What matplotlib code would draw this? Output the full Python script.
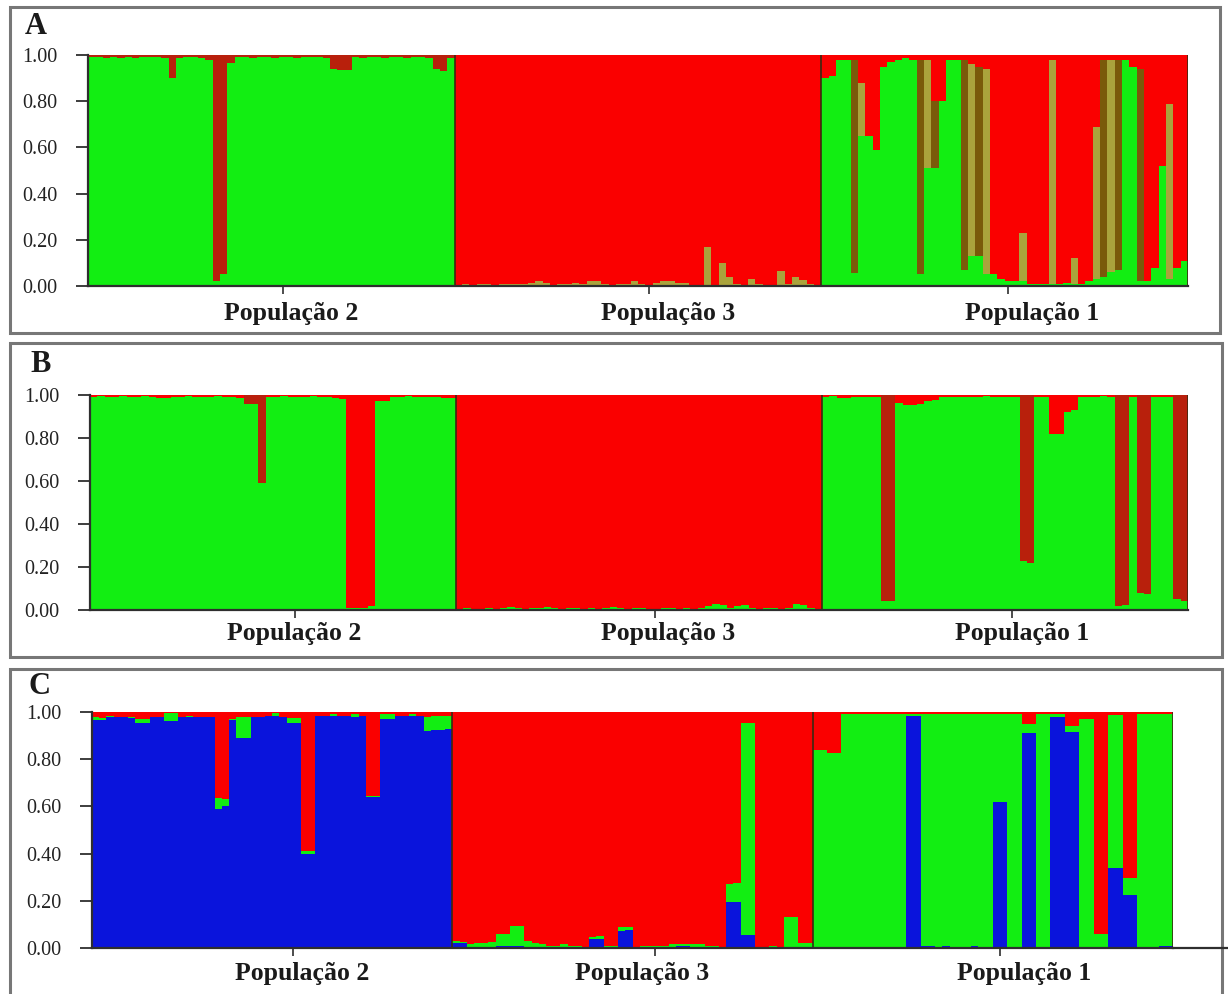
import numpy as np
import matplotlib.pyplot as plt
from matplotlib.patches import Rectangle
from matplotlib.lines import Line2D

plt.rcParams['font.family'] = ['Liberation Serif', 'DejaVu Serif']

W, H = 1228, 994

pop_names = ['População 2', 'População 3', 'População 1']
yticks = [0.0, 0.2, 0.4, 0.6, 0.8, 1.0]

# ---------------- A : K=2 (green / red, blended olive columns) ----------------
a_green_p2 = [0.99, 0.99, 0.985, 0.99, 0.985, 0.99, 0.985, 0.99, 0.99, 0.99,
              0.985, 0.90, 0.985, 0.99, 0.99, 0.985, 0.98, 0.02, 0.05, 0.965,
              0.99, 0.99, 0.985, 0.99, 0.99, 0.985, 0.99, 0.99, 0.985, 0.99,
              0.99, 0.99, 0.985, 0.94, 0.935, 0.935, 0.99, 0.985, 0.99, 0.99,
              0.985, 0.99, 0.99, 0.985, 0.99, 0.99, 0.985, 0.94, 0.93, 0.985]
a_green_p3 = [0.0] * 50
a_green_p1 = [0.90, 0.91, 0.98, 0.98, 0.055, 0.65, 0.65, 0.59, 0.95, 0.97,
              0.98, 0.985, 0.98, 0.05, 0.51, 0.51, 0.80, 0.98, 0.98, 0.07,
              0.13, 0.13, 0.05, 0.05, 0.03, 0.02, 0.02, 0.02, 0.01, 0.01,
              0.01, 0.01, 0.01, 0.015, 0.01, 0.01, 0.02, 0.03, 0.04, 0.06,
              0.07, 0.98, 0.95, 0.02, 0.02, 0.08, 0.52, 0.03, 0.08, 0.11]
a_mix_p2 = [0.0] * 50
a_mix_p3 = [0.005, 0.01, 0.005, 0.01, 0.01, 0.005, 0.01, 0.01, 0.01, 0.01,
            0.015, 0.02, 0.015, 0.005, 0.01, 0.01, 0.015, 0.01, 0.02, 0.02,
            0.01, 0.005, 0.01, 0.01, 0.02, 0.01, 0.005, 0.015, 0.02, 0.02,
            0.015, 0.015, 0.005, 0.005, 0.17, 0.005, 0.10, 0.04, 0.01, 0.005,
            0.03, 0.01, 0.005, 0.005, 0.065, 0.01, 0.04, 0.025, 0.01, 0.005]
a_mix_p1 = [0, 0, 0, 0, 0.925, 0.23, 0, 0, 0, 0,
            0, 0, 0, 0.93, 0.47, 0.29, 0, 0, 0, 0.91,
            0.83, 0.82, 0.89, 0, 0, 0, 0, 0.21, 0, 0,
            0, 0.97, 0, 0, 0.11, 0, 0, 0.66, 0.94, 0.92,
            0.91, 0, 0, 0.92, 0, 0, 0, 0.76, 0, 0]
a_dark_mix = [104, 113, 115, 119, 121, 138, 140, 143]

# ---------------- B : K=2 (green / red) ----------------
b_green_p2 = [0.99, 0.995, 0.99, 0.99, 0.995, 0.99, 0.99, 0.995, 0.99, 0.985,
              0.985, 0.99, 0.99, 0.995, 0.99, 0.99, 0.99, 0.995, 0.99, 0.99,
              0.985, 0.96, 0.96, 0.59, 0.99, 0.99, 0.995, 0.99, 0.99, 0.99,
              0.995, 0.99, 0.99, 0.985, 0.98, 0.01, 0.01, 0.01, 0.02, 0.97,
              0.97, 0.99, 0.99, 0.995, 0.99, 0.99, 0.99, 0.99, 0.985, 0.985]
b_green_p3 = [0.005, 0.01, 0.005, 0.005, 0.01, 0.005, 0.01, 0.015, 0.01, 0.005,
              0.01, 0.01, 0.015, 0.01, 0.005, 0.01, 0.01, 0.005, 0.01, 0.005,
              0.01, 0.015, 0.01, 0.005, 0.01, 0.01, 0.005, 0.005, 0.01, 0.01,
              0.005, 0.01, 0.005, 0.01, 0.02, 0.03, 0.025, 0.01, 0.02, 0.025,
              0.01, 0.005, 0.01, 0.01, 0.005, 0.01, 0.03, 0.025, 0.01, 0.005]
b_green_p1 = [0.99, 0.995, 0.985, 0.985, 0.99, 0.99, 0.99, 0.99, 0.04, 0.04,
              0.965, 0.955, 0.955, 0.96, 0.97, 0.975, 0.99, 0.99, 0.99, 0.99,
              0.99, 0.99, 0.995, 0.99, 0.99, 0.99, 0.99, 0.23, 0.22, 0.99,
              0.99, 0.82, 0.82, 0.92, 0.93, 0.99, 0.99, 0.99, 0.995, 0.99,
              0.02, 0.025, 0.99, 0.08, 0.075, 0.99, 0.99, 0.99, 0.05, 0.04]
b_dark_red = [21, 22, 23, 108, 109, 127, 128, 140, 141, 143, 144, 148, 149]

# ---------------- C : K=3 (blue / green / red) ----------------
c_blue_p2 = [0.965, 0.965, 0.98, 0.98, 0.98, 0.975, 0.955, 0.955, 0.98, 0.98,
             0.96, 0.96, 0.98, 0.98, 0.98, 0.98, 0.98, 0.59, 0.60, 0.965,
             0.89, 0.89, 0.98, 0.98, 0.985, 0.985, 0.98, 0.955, 0.955, 0.40,
             0.40, 0.985, 0.985, 0.985, 0.985, 0.985, 0.98, 0.985, 0.64, 0.64,
             0.97, 0.97, 0.985, 0.985, 0.985, 0.985, 0.92, 0.925, 0.925, 0.93]
c_green_p2 = [0.015, 0.01, 0.005, 0.0, 0.0, 0.005, 0.015, 0.015, 0.0, 0.0,
              0.035, 0.035, 0.0, 0.005, 0.0, 0.0, 0.0, 0.045, 0.03, 0.005,
              0.09, 0.09, 0.0, 0.0, 0.0, 0.01, 0.0, 0.02, 0.02, 0.01,
              0.01, 0.0, 0.0, 0.005, 0.0, 0.0, 0.01, 0.0, 0.005, 0.005,
              0.02, 0.02, 0.0, 0.0, 0.005, 0.0, 0.06, 0.06, 0.06, 0.055]
c_blue_p3 = [0.02, 0.02, 0.0, 0.0, 0.0, 0.0, 0.01, 0.01, 0.01, 0.01,
             0.0, 0.0, 0.0, 0.0, 0.0, 0.0, 0.0, 0.0, 0.0, 0.04,
             0.04, 0.0, 0.0, 0.07, 0.075, 0.0, 0.0, 0.0, 0.0, 0.0,
             0.005, 0.01, 0.01, 0.0, 0.0, 0.0, 0.0, 0.0, 0.195, 0.195,
             0.054, 0.054, 0.0, 0.0, 0.0, 0.0, 0.005, 0.005, 0.0, 0.0]
c_green_p3 = [0.01, 0.005, 0.015, 0.02, 0.02, 0.025, 0.05, 0.05, 0.085, 0.085,
              0.03, 0.02, 0.015, 0.01, 0.01, 0.015, 0.01, 0.01, 0.005, 0.005,
              0.01, 0.01, 0.01, 0.02, 0.015, 0.005, 0.01, 0.01, 0.01, 0.01,
              0.01, 0.005, 0.005, 0.015, 0.015, 0.01, 0.01, 0.005, 0.078, 0.08,
              0.90, 0.90, 0.005, 0.005, 0.01, 0.005, 0.125, 0.125, 0.02, 0.02]
c_blue_p1 = [0.005, 0.005, 0.005, 0.005, 0.005, 0.005, 0.0, 0.005, 0.005, 0.0,
             0.005, 0.005, 0.005, 0.985, 0.985, 0.01, 0.01, 0.005, 0.01, 0.005,
             0.0, 0.005, 0.01, 0.005, 0.005, 0.62, 0.62, 0.005, 0.005, 0.91,
             0.91, 0.005, 0.005, 0.98, 0.98, 0.915, 0.915, 0.005, 0.005, 0.005,
             0.005, 0.338, 0.338, 0.225, 0.225, 0.005, 0.005, 0.005, 0.01, 0.01]
c_green_p1 = [0.835, 0.835, 0.82, 0.82, 0.985, 0.985, 0.99, 0.985, 0.985, 0.99,
              0.985, 0.985, 0.985, 0.005, 0.005, 0.98, 0.98, 0.985, 0.98, 0.985,
              0.99, 0.985, 0.98, 0.985, 0.985, 0.37, 0.37, 0.985, 0.985, 0.04,
              0.04, 0.985, 0.985, 0.01, 0.01, 0.025, 0.025, 0.965, 0.965, 0.055,
              0.055, 0.65, 0.65, 0.07, 0.07, 0.985, 0.985, 0.985, 0.98, 0.98]

GREEN = '#12ee12'
RED = '#fa0000'
DARK_RED = '#b8200c'
BLUE = '#0a14dc'
KHAKI = '#aaa33c'
DARK_MIX = '#7a5a0a'
EDGE = '#2e2e2e'

a_green = np.array(a_green_p2 + a_green_p3 + a_green_p1)
a_mix = np.array(a_mix_p2 + a_mix_p3 + a_mix_p1, dtype=float)
b_green = np.array(b_green_p2 + b_green_p3 + b_green_p1)
c_blue = np.array(c_blue_p2 + c_blue_p3 + c_blue_p1)
c_green = np.array(c_green_p2 + c_green_p3 + c_green_p1)

n = len(a_green)
x = np.arange(n)


def stack(ax, layers):
    bottom = np.zeros(n)
    for vals, cols in layers:
        vals = np.clip(vals, 0, None)
        ax.bar(x, vals, bottom=bottom, width=1.0, align='edge',
               color=cols, linewidth=0, antialiased=False)
        bottom = bottom + vals


def style(ax, ticks, labx, laby):
    ax.set_xlim(0, n)
    ax.set_ylim(0, 1)
    for s in ['top', 'right']:
        ax.spines[s].set_visible(False)
    for s in ['left', 'bottom']:
        ax.spines[s].set_color(EDGE)
        ax.spines[s].set_linewidth(1.6)
    ax.set_yticks(yticks)
    ax.set_yticklabels(['%.2f' % v for v in yticks])
    ax.tick_params(axis='y', length=9, width=1.3, pad=13, labelsize=14.5,
                   color=EDGE, labelcolor='#222222')
    ax.set_xticks(ticks)
    ax.set_xticklabels([])
    ax.tick_params(axis='x', length=6, width=1.2, color=EDGE)
    for b in [50, 100, 150]:
        ax.axvline(b, color='#3a2a12', lw=1.2)
    for lx, name in zip(labx, pop_names):
        ax.text(lx, -laby, name, transform=ax.get_xaxis_transform(),
                ha='center', va='center', fontsize=18.5, fontweight='bold',
                color='#1a1a1a')


fig = plt.figure(figsize=(W / 100, H / 100), dpi=100)


def ax_at(x0, y0, x1, y1):
    return fig.add_axes([x0 / W, 1 - y1 / H, (x1 - x0) / W, (y1 - y0) / H])


def box(x0, y0, x1, y1):
    fig.add_artist(Rectangle((x0 / W, 1 - y1 / H), (x1 - x0) / W, (y1 - y0) / H,
                             transform=fig.transFigure, fill=False,
                             edgecolor='#777777', linewidth=2.2))


box(10, 7, 1220, 333)
box(10, 343, 1222, 657)
box(10, 669, 1222, 1004)

# A
axA = ax_at(88, 55, 1188, 286)
a_mix_cols = [DARK_MIX if i in a_dark_mix else KHAKI for i in range(n)]
a_red_cols = [DARK_RED if i < 50 else RED for i in range(n)]
stack(axA, [(a_green, GREEN), (a_mix, a_mix_cols),
            (1 - a_green - a_mix, a_red_cols)])
style(axA, [26.6, 76.5, 125.5], [27.7, 79.1, 128.7], 0.117)

# B
axB = ax_at(90, 395, 1188, 610)
b_red_cols = [DARK_RED if i in b_dark_red else RED for i in range(n)]
stack(axB, [(b_green, GREEN), (1 - b_green, b_red_cols)])
style(axB, [28.0, 77.2, 126.0], [27.9, 79.0, 127.4], 0.107)

# C
axC = ax_at(92, 712, 1173, 948)
stack(axC, [(c_blue, BLUE), (c_green, GREEN), (1 - c_blue - c_green, RED)])
style(axC, [27.9, 78.1, 126.0], [29.2, 76.3, 129.3], 0.110)
fig.add_artist(Line2D([1173 / W, 1228 / W], [1 - 948 / H, 1 - 948 / H],
                      transform=fig.transFigure, color=EDGE, lw=1.6))

for letter, lx, ly in [('A', 36, 27), ('B', 41, 365), ('C', 40, 686)]:
    fig.text(lx / W, 1 - ly / H, letter, ha='center', va='center',
             fontsize=22, fontweight='bold', color='#1a1a1a')

fig.savefig('out.png', dpi=100)
